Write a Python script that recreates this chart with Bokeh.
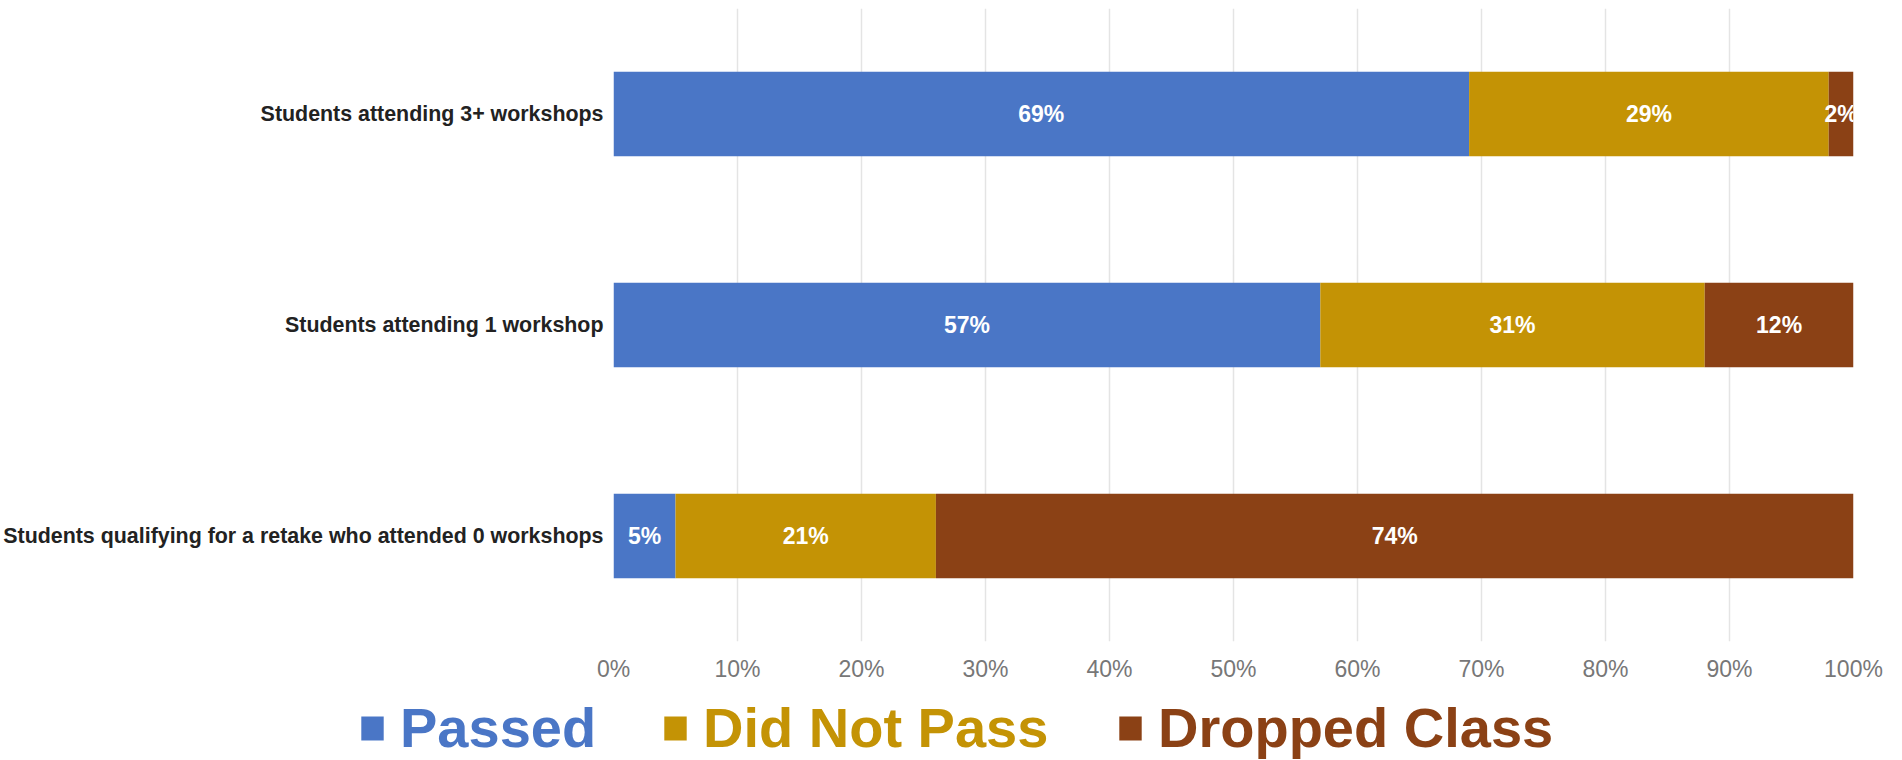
from bokeh.plotting import figure
from bokeh.models import (ColumnDataSource, FactorRange, FixedTicker, PrintfTickFormatter,
                          Legend, LegendItem, Range1d)
from bokeh.core.properties import value
from bokeh.embed import file_html
from bokeh.resources import INLINE

categories = [
    "Students attending 3+ workshops",
    "Students attending 1 workshop",
    "Students qualifying for a retake who attended 0 workshops",
]
passed = [69, 57, 5]
did_not_pass = [29, 31, 21]
dropped = [2, 12, 74]
series_keys = ["passed", "did_not_pass", "dropped"]
series_names = ["Passed", "Did Not Pass", "Dropped Class"]
colors = ["#4a76c6", "#c49305", "#8b4115"]
x_ticks = [0, 10, 20, 30, 40, 50, 60, 70, 80, 90, 100]

FONT = "Liberation Sans"

src = ColumnDataSource(dict(cat=categories, passed=passed,
                            did_not_pass=did_not_pass, dropped=dropped))

p = figure(y_range=FactorRange(*categories[::-1]), x_range=Range1d(0, 100),
           frame_width=1240, frame_height=633, output_backend="svg",
           toolbar_location=None, min_border_left=590, min_border_right=45,
           min_border_top=8, min_border_bottom=49)
p.outline_line_color = None
p.background_fill_color = "white"
p.border_fill_color = "white"

renderers = p.hbar_stack(series_keys, y="cat", height=0.4, color=colors,
                         source=src, line_width=0)

# value labels centred in each segment
lx, ly, lt = [], [], []
for i, cat in enumerate(categories):
    start = 0
    for vals in (passed, did_not_pass, dropped):
        v = vals[i]
        lx.append(start + v / 2)
        ly.append(cat)
        lt.append(f"{v}%")
        start += v
lab_src = ColumnDataSource(dict(x=lx, y=ly, t=lt))
p.text(x="x", y="y", text="t", source=lab_src, text_color="white",
       text_font=value(FONT), text_font_style="bold", text_font_size="23px",
       text_align="center", text_baseline="middle")

# grid
p.ygrid.grid_line_color = None
p.xgrid.ticker = FixedTicker(ticks=x_ticks)
p.xgrid.grid_line_color = "#e4e4e4"
p.xgrid.grid_line_width = 1.5

# x axis
p.xaxis.ticker = FixedTicker(ticks=x_ticks)
p.xaxis.formatter = PrintfTickFormatter(format="%d%%")
p.xaxis.axis_line_color = None
p.xaxis.major_tick_line_color = None
p.xaxis.minor_tick_line_color = None
p.xaxis.major_tick_out = 0
p.xaxis.major_tick_in = 0
p.xaxis.minor_tick_out = 0
p.xaxis.major_label_text_font = FONT
p.xaxis.major_label_text_font_size = "23px"
p.xaxis.major_label_text_color = "#777777"
p.xaxis.major_label_standoff = 14

# y axis
p.yaxis.axis_line_color = None
p.yaxis.major_tick_line_color = None
p.yaxis.minor_tick_line_color = None
p.yaxis.major_tick_out = 0
p.yaxis.major_tick_in = 0
p.yaxis.minor_tick_out = 0
p.yaxis.major_label_text_font = FONT
p.yaxis.major_label_text_font_style = "bold"
p.yaxis.major_label_text_font_size = "21.4px"
p.yaxis.major_label_text_color = "#222222"
p.yaxis.major_label_standoff = 10

# legend strip below the chart (separate root so its frame spans the page;
# one legend per series so each label takes its series colour).
# The strip's bars have zero thickness, so only the legend swatches show.
lg = figure(width=1886, height=70, output_backend="svg", toolbar_location=None,
            x_range=Range1d(0, 100), y_range=FactorRange(*categories[::-1]),
            x_axis_location=None, y_axis_location=None, min_border=0)
lg.outline_line_color = None
lg.grid.visible = False
lg.background_fill_color = "white"
lg.border_fill_color = "white"
swatches = lg.hbar_stack(series_keys, y="cat", height=0, color=colors,
                         source=src, line_width=0, line_alpha=0)
legend_x = [358, 661, 1116]
for name, c, sw, lxp in zip(series_names, colors, swatches, legend_x):
    leg = Legend(items=[LegendItem(label=name, renderers=[sw])],
                 location=(lxp, 0), orientation="horizontal",
                 label_text_font=FONT, label_text_font_style="bold",
                 label_text_font_size="56px", label_text_color=c,
                 glyph_width=28, glyph_height=30, label_standoff=14,
                 padding=0, margin=0, spacing=0, border_line_color=None,
                 background_fill_alpha=0)
    lg.add_layout(leg)

open("out.html", "w").write(file_html([p, lg], INLINE))
